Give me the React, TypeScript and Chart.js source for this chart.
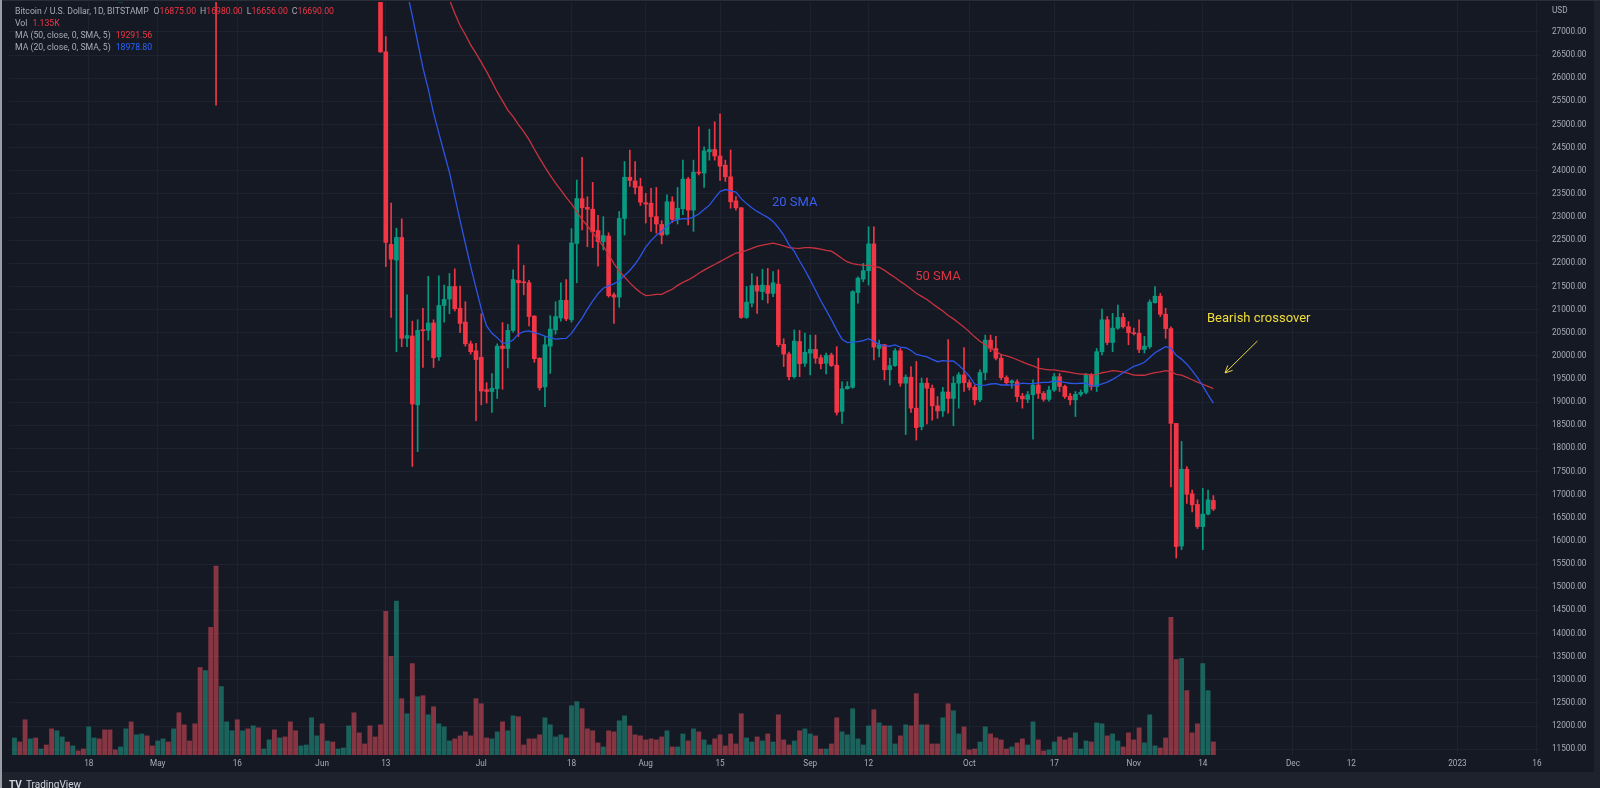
import React, { useEffect, useRef } from "react";
import { Chart, registerables } from "chart.js";

Chart.register(...registerables);

// Day numbers are counted from 13 Jun 2022 (day 0). First candle: 4 Apr 2022.
const FIRST_DAY = -70;

const open: number[] = [
  46400, 46620, 45550, 43200, 43500, 42290, 42780, 42200, 39520, 40120, 41160, 39940, 40550, 40420, 39710, 40820, 41500, 41370, 40530, 39740, 39490, 39510, 40450, 38120, 39240, 39770, 38600,
  37710, 38470, 38530, 37750, 39690, 36570, 36040, 35500, 34060, 30300, 31020, 29050, 28990, 29280, 30100, 31300, 29860, 30420, 28720, 30310, 29200, 29440, 30320, 29100, 29650, 29560, 29270, 28630, 28810, 29450, 31720,
  31790, 29800, 30460, 29700, 29830, 29900, 31370, 31150, 30210, 30110, 29080, 28360,
  26570, 22410, 22070, 22560, 20380, 20430, 18940, 20560, 20550, 20710, 19980, 21090, 21230, 21500, 21030, 20730, 20260, 20110,
  19970, 19270, 19230, 19290, 20210, 20160, 20550, 21630, 21600, 21580, 20860, 19950, 19330, 20210, 20560, 20820, 21200, 20780, 22430, 23400, 23210, 23170, 22710, 22470, 22590, 21320, 21270, 22970, 23860, 23780, 23660,
  23310, 23300, 23010, 22840, 22630, 23330, 22950, 23180, 23820, 23150, 23970, 23950, 24410, 24460, 24320, 24120, 23870, 23350, 23200, 20830, 21140, 21520, 21390, 21520, 21350, 21550, 20250, 20040, 19550, 20310, 19840,
  20060, 20140, 19960, 19840, 20020, 19800, 18800, 19290, 19320, 21370, 21660, 21840, 22420, 20160, 20240, 19700, 19790, 20110, 19410, 19540, 18870, 18470, 19410, 19300, 18920, 18810, 19220, 19080, 19410, 19590,
  19420, 19320, 19050, 19640, 20340, 20160, 19950, 19530, 19420, 19440, 19130, 19060, 19160, 19370, 19190, 19060, 19260, 19550, 19340, 19130, 19050, 19170, 19210, 19590, 19340, 20090, 20780, 20290, 20600, 20830, 20630,
  20500, 20490, 20140, 20200, 21150, 21290, 20900, 20590, 18540, 15890, 17550, 17020, 16790, 16310, 16580, 16875,
];

const high: number[] = [
  46890, 47200, 45550, 43900, 43970, 42800, 43420, 42420, 40690, 41560, 41460, 40850, 40700, 40600, 41000, 41740, 42170, 42950, 40790, 39990, 39900, 40620, 40780, 39450, 40330, 39910, 38780,
  38660, 39130, 38630, 39900, 39800, 36640, 36140, 35500, 34230, 32600, 32160, 30100, 30990, 30300, 31400, 31300, 30700, 30640, 30500, 30720, 29600, 30430, 30630, 29800, 30200, 29850, 29370, 28970, 29530, 31900, 32250,
  31950, 30620, 30660, 29930, 30130, 31750, 31520, 31320, 30620, 30330, 29390, 28530,
  26900, 23300, 22760, 22960, 21320, 20750, 20780, 21030, 21720, 20780, 21730, 21530, 21780, 21880, 21510, 21170, 20320, 20270,
  20910, 19420, 19620, 20260, 20720, 20680, 21860, 22400, 21960, 21630, 20870, 19960, 20420, 20870, 21170, 21580, 21650, 22750, 23800, 24290, 23440, 23750, 23040, 23010, 22660, 21360, 23120, 24200, 24450, 24200, 23840,
  23510, 23620, 23640, 22920, 23480, 23440, 23640, 24230, 23860, 24230, 24950, 24520, 24900, 25060, 25230, 24230, 24450, 23440, 23210, 21500, 21780, 21710, 21870, 21890, 21820, 21860, 20370, 20080, 20560, 20550, 20490,
  20450, 20450, 20020, 20060, 20060, 20200, 19440, 19440, 21410, 21710, 22000, 22790, 22790, 20340, 20250, 19950, 20160, 20160, 19590, 19770, 19880, 19520, 19520, 19370, 19120, 19320, 20350, 19550, 19640, 20180,
  19480, 19370, 19700, 20450, 20450, 20420, 20020, 19570, 19480, 19480, 19190, 19230, 19480, 19950, 19230, 19340, 19620, 19620, 19370, 19190, 19230, 19260, 19620, 19620, 20160, 21010, 20850, 20920, 21100, 20920, 20740,
  20600, 20780, 20420, 21210, 21500, 21350, 21030, 20630, 18540, 18150, 17610, 17100, 16890, 17140, 17100, 16980,
];

const low: number[] = [
  45150, 45350, 43100, 42750, 42130, 42150, 42130, 39200, 39250, 39560, 39550, 39770, 40020, 39560, 38540, 40580, 40900, 39770, 39230, 39320, 39190, 38200, 37870, 37890, 38900, 38220, 37590,
  37420, 38080, 37510, 37700, 35850, 35270, 34770, 33730, 30050, 29760, 27800, 25420, 28750, 28620, 29500, 29100, 29470, 28670, 28700, 28750, 28950, 29240, 28900, 28600, 29350, 28020, 28280, 28530, 28760, 29310, 31220,
  29350, 29600, 29350, 29500, 29500, 29880, 29270, 29870, 29980, 28900, 28200, 26560,
  21930, 20830, 20090, 20200, 20200, 17610, 17930, 19750, 20340, 19750, 19900, 20730, 20910, 20970, 20500, 20210, 20040, 18600,
  18940, 18980, 18780, 19080, 19280, 19740, 20510, 20420, 21320, 20650, 19860, 19260, 18900, 19620, 20470, 20750, 20760, 20730, 21580, 22720, 22360, 22340, 21940, 22290, 21270, 20700, 21050, 22610, 23660, 23500, 23250,
  22870, 22690, 22650, 22420, 22610, 22880, 22850, 23050, 22830, 22690, 23910, 23640, 24230, 24230, 23790, 23770, 23190, 23150, 20810, 20810, 21060, 20920, 21210, 21140, 21280, 20200, 19770, 19480, 19520, 19550, 19770,
  19590, 19840, 19720, 19610, 19770, 18720, 18540, 19280, 19300, 21140, 21600, 21530, 19910, 19980, 19480, 19370, 19770, 19340, 18300, 18780, 18180, 18400, 18530, 18610, 18650, 18690, 18760, 18490, 18870, 19230,
  19260, 18940, 19010, 19480, 20090, 19910, 19480, 19370, 19300, 19010, 18870, 18990, 18200, 19080, 19020, 19020, 19230, 19230, 19080, 18940, 18690, 19130, 19180, 19260, 19230, 20020, 20240, 20090, 20570, 20600, 20240,
  20450, 20070, 20060, 20160, 21140, 20850, 20380, 17170, 15630, 15810, 16810, 16630, 16270, 15810, 16560, 16656,
];

const close: number[] = [
  46620, 45550, 43200, 43500, 42290, 42780, 42200, 39520, 40120, 41160, 39940, 40550, 40420, 39710, 40820, 41500, 41370, 40530, 39740, 39490, 39510, 40450, 38120, 39240, 39770, 38600, 37710,
  38470, 38530, 37750, 39690, 36570, 36040, 35500, 34060, 30300, 31020, 29050, 28990, 29280, 30100, 31300, 29860, 30420, 28720, 30310, 29200, 29440, 30320, 29100, 29650, 29560, 29270, 28630, 28810, 29450, 31720, 31790,
  29800, 30460, 29700, 29830, 29900, 31370, 31150, 30210, 30110, 29080, 28360, 26570,
  22450, 22090, 22560, 20380, 20440, 18960, 20550, 20545, 20710, 19960, 21090, 21220, 21500, 21020, 20700, 20260, 20090, 19920,
  19240, 19230, 19300, 20210, 20160, 20550, 21650, 21580, 21580, 20850, 19940, 19310, 20240, 20580, 20850, 21200, 20800, 22440, 23400, 23200, 23170, 22680, 22470, 22600, 21300, 21270, 22970, 23860, 23790, 23640, 23320,
  23280, 23010, 22850, 22610, 23330, 22950, 23190, 23820, 23150, 23970, 23950, 24430, 24460, 24320, 24100, 23870, 23330, 23200, 20830, 21160, 21520, 21400, 21530, 21350, 21580, 20240, 20040, 19550, 20320, 19830, 20080,
  20140, 19950, 19830, 20010, 19790, 18780, 19290, 19340, 21390, 21680, 21840, 22420, 20190, 20240, 19700, 19790, 20110, 19410, 19540, 18870, 18450, 19410, 19300, 18920, 18810, 19220, 19080, 19410, 19590, 19420,
  19320, 19050, 19640, 20340, 20160, 19950, 19530, 19420, 19460, 19120, 19070, 19160, 19370, 19190, 19060, 19260, 19550, 19340, 19120, 19050, 19170, 19210, 19590, 19340, 20090, 20780, 20290, 20600, 20830, 20630, 20500,
  20480, 20140, 20210, 21160, 21290, 20900, 20590, 18540, 15880, 17550, 17010, 16780, 16310, 16580, 16890, 16690,
];

// Volume, thousands of BTC
const volumeK: number[] = [
  1.48, 1.13, 3.06, 1.40, 1.48, 0.52, 0.87, 2.27, 2.10, 1.57, 1.13, 0.79, 0.35, 0.52, 2.44, 1.48, 1.40, 2.18, 2.18, 0.44, 0.70, 2.27, 2.88, 1.75, 1.83, 1.66, 0.79,
  1.22, 1.40, 1.13, 2.27, 3.67, 2.62, 1.22, 2.71, 7.60, 7.33, 11.09, 16.41, 5.94, 2.88, 2.10, 3.06, 2.10, 2.27, 2.53, 2.36, 0.52, 1.31, 2.18, 1.48, 1.57, 2.88, 2.10, 0.79, 0.87, 3.23, 1.66,
  2.71, 1.22, 1.13, 0.52, 0.61, 2.53, 3.67, 1.92, 0.96, 2.53, 1.57, 2.62,
  12.48, 8.56, 13.36, 4.89, 3.58, 7.94, 5.06, 5.15, 3.49, 4.19, 2.71, 2.44, 1.22, 1.40, 1.66, 2.01, 1.66, 4.89,
  4.45, 1.48, 1.40, 2.01, 2.88, 2.10, 3.40, 3.32, 0.87, 1.40, 1.40, 1.75, 3.23, 2.62, 1.57, 1.75, 1.48, 4.28, 4.63, 4.02, 2.27, 2.10, 1.05, 0.70, 2.10, 2.01, 2.97, 3.40, 2.53, 1.75, 1.66,
  1.31, 1.40, 1.31, 1.57, 2.10, 0.70, 0.70, 1.83, 1.22, 2.27, 2.01, 1.31, 0.87, 1.40, 1.75, 0.79, 1.83, 0.96, 3.58, 1.48, 1.13, 1.57, 1.22, 1.83, 1.13, 3.49, 1.31, 0.87, 1.22, 2.10, 2.27,
  1.83, 1.66, 0.52, 0.52, 0.96, 3.23, 2.01, 1.75, 4.02, 1.40, 0.87, 2.53, 3.93, 2.79, 2.53, 2.53, 0.96, 1.66, 2.62, 2.53, 5.33, 2.62, 2.62, 0.96, 0.96, 3.23, 4.45, 3.84, 1.83, 2.44,
  0.44, 0.52, 1.13, 2.44, 1.83, 1.48, 1.31, 0.52, 0.70, 1.05, 1.40, 0.87, 2.88, 1.31, 0.35, 0.44, 1.13, 1.57, 1.31, 1.48, 1.92, 0.52, 1.22, 1.13, 2.79, 2.71, 1.66, 1.83, 1.22, 0.70,
  1.92, 1.31, 2.36, 1.05, 3.49, 0.79, 0.61, 1.48, 11.96, 8.29, 8.38, 5.59, 1.92, 2.71, 7.94, 5.59, 1.135,
];

const tickDays = [-56, -43, -28, -12, 0, 18, 35, 49, 63, 80, 91, 110, 126, 141, 154, 171, 182, 202, 217];
const tickLabels = ["18", "May", "16", "Jun", "13", "Jul", "18", "Aug", "15", "Sep", "12", "Oct", "17", "Nov", "14", "Dec", "12", "2023", "16"];
const priceTicks = [
  11500, 12000, 12500, 13000, 13500, 14000, 14500, 15000, 15500, 16000, 16500, 17000, 17500, 18000, 18500, 19000,
  19500, 20000, 20500, 21000, 21500, 22000, 22500, 23000, 23500, 24000, 24500, 25000, 25500, 26000, 26500, 27000,
];

const legendTitle = "Bitcoin / U.S. Dollar, 1D, BITSTAMP";
const legendVol = "1.135K";
const legendMA50 = "19291.56";
const legendMA20 = "18978.80";

const notes = [
  { text: "20 SMA", day: 72.8, price: 23304, color: "#3a5ff0" },
  { text: "50 SMA", day: 99.8, price: 21705, color: "#dc3541" },
  { text: "Bearish crossover", day: 154.8, price: 20797, color: "#f2de38" },
];
const arrow = { fromDay: 164.3, fromPrice: 20322, toDay: 158.2, toPrice: 19630 };

const BG = "#151924";
const GRID = "#1e2230";
const TEXT = "#a9acb5";
const UP = "#089981";
const DOWN = "#f23645";
const VOL_UP = "rgba(34,171,148,0.5)";
const VOL_DOWN = "rgba(247,82,95,0.5)";
const FONT = "Roboto, 'Noto Sans', sans-serif";

function sma(values: number[], n: number) {
  return values.map((_, i) => {
    if (i < n - 1) return null;
    let s = 0;
    for (let k = i - n + 1; k <= i; k++) s += values[k];
    return s / n;
  });
}

const overlay = {
  id: "overlay",
  beforeDraw(chart: any) {
    const { ctx, width, height } = chart;
    const xs = chart.scales.x;
    ctx.save();
    ctx.fillStyle = BG;
    ctx.fillRect(0, 0, width, height);
    ctx.fillStyle = "#1e222d";
    ctx.fillRect(0, xs.bottom, width, height - xs.bottom);
    ctx.fillRect(width - 6, 0, 6, height);
    ctx.fillStyle = "#2a2e39";
    ctx.fillRect(0, 0, width, 1);
    ctx.fillStyle = "#9a9da4";
    ctx.fillRect(0, 0, 2, height);
    ctx.restore();
  },
  afterDraw(chart: any) {
    const { ctx } = chart;
    const xs = chart.scales.x;
    const ys = chart.scales.y;
    ctx.save();
    // legend block
    ctx.font = `8.7px ${FONT}`;
    ctx.textBaseline = "middle";
    ctx.textAlign = "left";
    const last = close.length - 1;
    const lines: [string, string, number][][] = [
      [
        [legendTitle, TEXT, 5], ["O", TEXT, 0], [open[last].toFixed(2), DOWN, 4],
        ["H", TEXT, 0], [high[last].toFixed(2), DOWN, 4],
        ["L", TEXT, 0], [low[last].toFixed(2), DOWN, 4],
        ["C", TEXT, 0], [close[last].toFixed(2), DOWN, 0],
      ],
      [["Vol", TEXT, 5], [legendVol, DOWN, 0]],
      [["MA (50, close, 0, SMA, 5)", TEXT, 5], [legendMA50, DOWN, 0]],
      [["MA (20, close, 0, SMA, 5)", TEXT, 5], [legendMA20, "#2962ff", 0]],
    ];
    lines.forEach((segs, li) => {
      let x = 15;
      const y = 12 + li * 12;
      segs.forEach(([t, c, gap]) => {
        ctx.fillStyle = c;
        ctx.fillText(t, x, y);
        x += ctx.measureText(t).width + gap;
      });
    });
    // currency label
    ctx.fillStyle = TEXT;
    ctx.font = `8.2px ${FONT}`;
    ctx.fillText("USD", ys.left + 12, 11);
    // annotations
    ctx.font = `13px ${FONT}`;
    notes.forEach((n) => {
      ctx.fillStyle = n.color;
      ctx.fillText(n.text, xs.getPixelForValue(n.day), ys.getPixelForValue(n.price));
    });
    const x1 = xs.getPixelForValue(arrow.fromDay);
    const y1 = ys.getPixelForValue(arrow.fromPrice);
    const x2 = xs.getPixelForValue(arrow.toDay);
    const y2 = ys.getPixelForValue(arrow.toPrice);
    const ang = Math.atan2(y2 - y1, x2 - x1);
    ctx.strokeStyle = "#e9d545";
    ctx.lineWidth = 1;
    ctx.beginPath();
    ctx.moveTo(x1, y1);
    ctx.lineTo(x2, y2);
    ctx.moveTo(x2, y2);
    ctx.lineTo(x2 - 8 * Math.cos(ang - 0.45), y2 - 8 * Math.sin(ang - 0.45));
    ctx.moveTo(x2, y2);
    ctx.lineTo(x2 - 8 * Math.cos(ang + 0.45), y2 - 8 * Math.sin(ang + 0.45));
    ctx.stroke();
    // footer logo
    ctx.fillStyle = "#d1d4dc";
    ctx.font = `bold 10px ${FONT}`;
    ctx.fillText("TV", 9, 785);
    ctx.font = `10px ${FONT}`;
    ctx.fillText("TradingView", 26, 785);
    ctx.restore();
  },
};

export default function App() {
  const ref = useRef<HTMLCanvasElement | null>(null);

  useEffect(() => {
    const canvas = ref.current;
    if (!canvas) return;
    const days = close.map((_, i) => FIRST_DAY + i);
    const isUp = close.map((c, i) => c >= open[i]);
    const ma50 = sma(close, 50);
    const ma20 = sma(close, 20);

    const chart = new Chart(canvas, {
      type: "bar",
      data: {
        datasets: [
          {
            type: "line",
            data: days.map((d, i) => ({ x: d, y: ma20[i] })),
            borderColor: "#2c55e6",
            borderWidth: 1.3,
            pointRadius: 0,
            tension: 0,
            yAxisID: "y",
            order: 1,
            clip: 0,
          } as any,
          {
            type: "line",
            data: days.map((d, i) => ({ x: d, y: ma50[i] })),
            borderColor: "#c8323f",
            borderWidth: 1.3,
            pointRadius: 0,
            tension: 0,
            yAxisID: "y",
            order: 2,
            clip: 0,
          } as any,
          {
            data: days.map((d, i) => ({ x: d, y: [open[i], close[i]] })),
            backgroundColor: isUp.map((u) => (u ? UP : DOWN)),
            barThickness: 4,
            minBarLength: 1,
            grouped: false,
            borderWidth: 0,
            yAxisID: "y",
            order: 3,
            clip: 0,
          } as any,
          {
            data: days.map((d, i) => ({ x: d, y: [low[i], high[i]] })),
            backgroundColor: isUp.map((u) => (u ? UP : DOWN)),
            barThickness: 1,
            grouped: false,
            borderWidth: 0,
            yAxisID: "y",
            order: 4,
            clip: 0,
          } as any,
          {
            data: days.map((d, i) => ({ x: d, y: volumeK[i] })),
            backgroundColor: isUp.map((u) => (u ? VOL_UP : VOL_DOWN)),
            barThickness: 4.2,
            grouped: false,
            borderWidth: 0,
            yAxisID: "yv",
            order: 10,
            clip: 0,
          } as any,
        ],
      },
      options: {
        animation: false,
        responsive: false,
        maintainAspectRatio: false,
        devicePixelRatio: 1,
        events: [],
        layout: { padding: { left: 9, top: 2, right: 0, bottom: 16 } },
        plugins: { legend: { display: false }, tooltip: { enabled: false } },
        scales: {
          x: {
            type: "linear",
            min: -71.03,
            max: 217.57,
            offset: false,
            border: { display: false },
            grid: { color: GRID, drawTicks: false, offset: false },
            ticks: {
              autoSkip: false,
              maxRotation: 0,
              padding: 4,
              color: TEXT,
              font: { family: FONT, size: 8.2 },
              callback: (_v: any, i: number) => tickLabels[i],
            },
            afterBuildTicks: (s: any) => {
              s.ticks = tickDays.map((v) => ({ value: v }));
            },
            afterFit: (s: any) => {
              s.height = 17;
              s.paddingLeft = 0;
              s.paddingRight = 0;
            },
          },
          y: {
            type: "linear",
            position: "right",
            min: 11374,
            max: 27648,
            border: { display: false },
            grid: { color: GRID, drawTicks: false },
            ticks: {
              padding: 12,
              color: TEXT,
              font: { family: FONT, size: 8.2 },
              callback: (v: any) => Number(v).toFixed(2),
            },
            afterBuildTicks: (s: any) => {
              s.ticks = priceTicks.map((v) => ({ value: v }));
            },
            afterFit: (s: any) => {
              s.width = 60;
              s.paddingTop = 0;
              s.paddingBottom = 0;
            },
          },
          yv: {
            type: "linear",
            display: false,
            min: 0,
            max: 65.38,
          },
        },
      },
      plugins: [overlay],
    } as any);

    return () => chart.destroy();
  }, []);

  return (
    <div style={{ position: "fixed", left: 0, top: 0, width: 1600, height: 788, background: BG }}>
      <canvas ref={ref} width={1600} height={788} style={{ display: "block", width: 1600, height: 788 }} />
    </div>
  );
}
